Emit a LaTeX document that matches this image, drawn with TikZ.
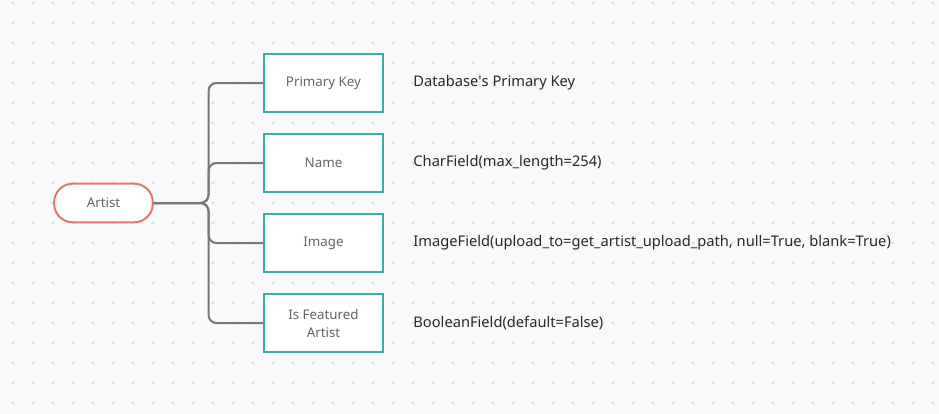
\documentclass[tikz,border=0pt]{standalone}
\usepackage{fontspec}
\setmainfont{Noto Sans}
\usetikzlibrary{positioning}
\definecolor{CanvasBg}{RGB}{249,249,251}
\definecolor{GridDot}{RGB}{222,222,228}
\definecolor{ArtistRed}{RGB}{240,112,112}
\definecolor{FieldTeal}{RGB}{56,174,168}
\definecolor{LinkGray}{RGB}{120,120,120}
\definecolor{LabelGray}{RGB}{100,100,100}
\definecolor{TypeText}{RGB}{40,40,40}

\begin{document}
\begin{tikzpicture}[x=0.75pt,y=-0.75pt,
    entity/.style={draw=ArtistRed,fill=white,line width=1.5pt,
      rounded corners=14pt,minimum width=74pt,minimum height=29pt,
      font=\fontsize{10}{12}\selectfont,text=LabelGray},
    field/.style={draw=FieldTeal,fill=white,line width=1.5pt,
      minimum width=89pt,minimum height=43.5pt,align=center,
      font=\fontsize{10}{13.5}\selectfont,text=LabelGray},
    ftype/.style={inner sep=0pt,anchor=west,
      font=\fontsize{11}{13}\selectfont,text=TypeText},
    link/.style={draw=LinkGray,line width=1.5pt,rounded corners=6pt}
  ]
  % canvas and dot grid
  \fill[CanvasBg] (0,0) rectangle (939,414);
  \foreach \gx in {13,33,...,933}
    \foreach \gy in {3,23,...,403}
      \fill[GridDot] (\gx,\gy) circle (1.2pt);

  % model and its fields
  \node[entity] (artist) at (103.5,203) {Artist};
  \node[field] (pk) at (323.5,83) {Primary Key};
  \node[field,below=15pt of pk] (name) {Name};
  \node[field,below=15pt of name] (image) {Image};
  \node[field,below=15pt of image] (featured) {Is Featured\\Artist};

  % field types
  \node[ftype,right=22pt of pk] (pktype) {Database\textquotesingle s Primary Key};
  \node[ftype,right=22pt of name] (nametype) {CharField(max\_length=254)};
  \node[ftype,right=22pt of image] (imagetype)
    {ImageField(upload\_to=get\_artist\_upload\_path, null=True, blank=True)};
  \node[ftype,right=22pt of featured] (featuredtype) {BooleanField(default=False)};

  % connectors
  \draw[link] (artist.east) -- ++(41pt,0) |- (pk.west);
  \draw[link] (artist.east) -- ++(41pt,0) |- (name.west);
  \draw[link] (artist.east) -- ++(41pt,0) |- (image.west);
  \draw[link] (artist.east) -- ++(41pt,0) |- (featured.west);
\end{tikzpicture}
\end{document}
